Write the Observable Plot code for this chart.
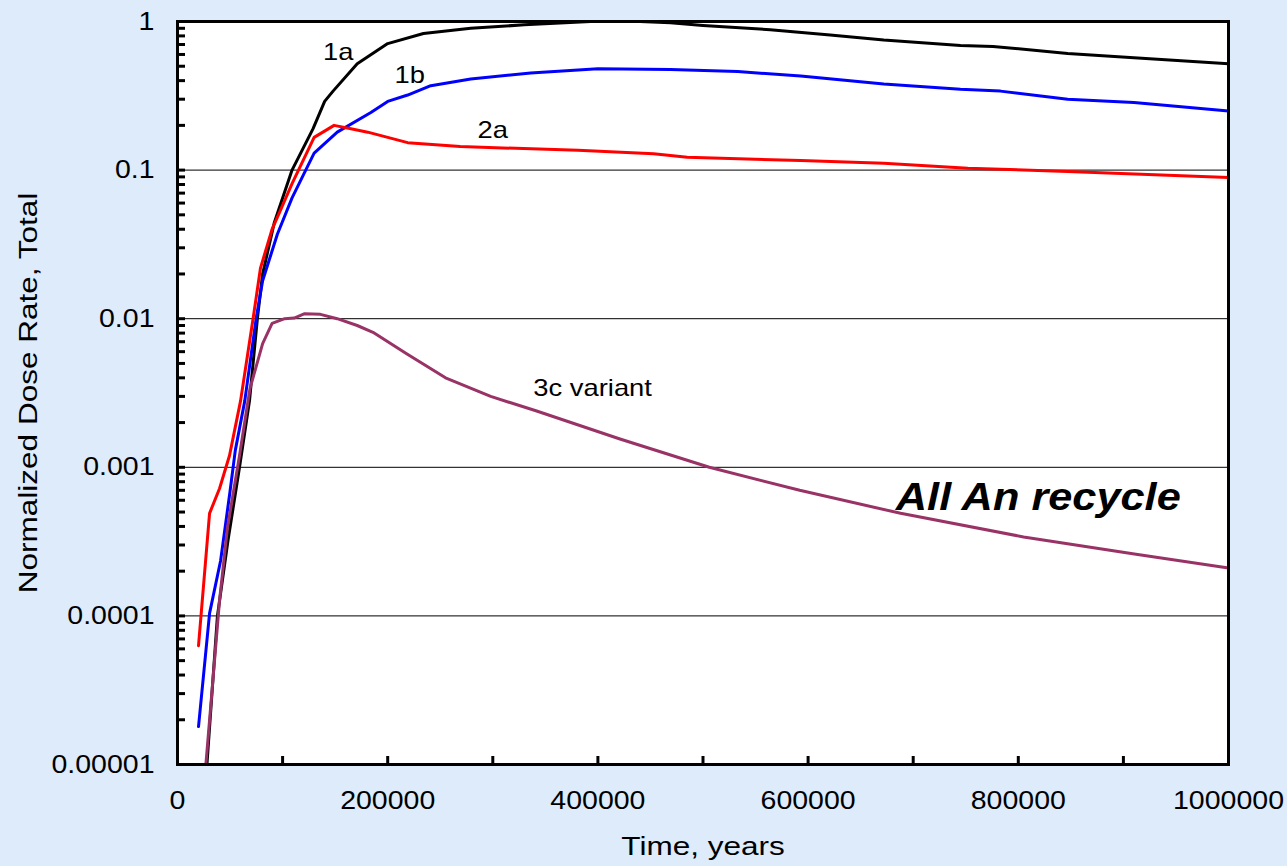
<!DOCTYPE html>
<html><head><meta charset="utf-8">
<script src="https://cdn.jsdelivr.net/npm/d3@7"></script>
<script src="https://cdn.jsdelivr.net/npm/@observablehq/plot@0.6"></script>
<style>
html,body{margin:0;padding:0;background:#ddebfb;}
#chart{width:1287px;height:866px;}
svg{font-family:"Liberation Sans",Arial,sans-serif;}
</style></head><body><div id="chart"></div>
<script>
const seriesNames = ["1a", "1b", "2a", "3c variant"];
const seriesColors = ["#000000", "#0000ff", "#ff0000", "#993366"];

const t1a = [28000, 38000, 48000, 59000, 68500, 76000, 81000, 92000, 109000, 129000, 140000, 148000, 171000, 200000, 234000, 279000, 330000, 393000, 440000, 469000, 500000, 564000, 621000, 672000, 745000, 776000, 847000, 910000, 1000000];
const v1a = [1.0e-5, 1.0e-4, 3.2e-4, 0.001, 0.0028, 0.01, 0.02, 0.044, 0.1, 0.19, 0.29, 0.34, 0.52, 0.71, 0.83, 0.9, 0.95, 1.0, 1.0, 0.98, 0.94, 0.88, 0.81, 0.75, 0.69, 0.68, 0.61, 0.57, 0.52];

const t1b = [20000, 30500, 41000, 50000, 55000, 64000, 75000, 81000, 95000, 109000, 122000, 130000, 152000, 184000, 200000, 219000, 241000, 279000, 336000, 400000, 469000, 533000, 593000, 672000, 745000, 783000, 847000, 910000, 1000000];
const v1b = [1.8e-5, 1.04e-4, 2.35e-4, 6.9e-4, 0.0013, 0.0028, 0.0102, 0.018, 0.037, 0.065, 0.1, 0.13, 0.18, 0.244, 0.29, 0.32, 0.37, 0.41, 0.45, 0.48, 0.475, 0.46, 0.43, 0.38, 0.35, 0.34, 0.30, 0.285, 0.25];

const t2a = [20000, 30500, 40000, 49500, 60000, 72000, 79000, 90000, 95000, 109000, 130000, 149000, 165000, 181000, 219000, 269000, 381000, 453000, 485000, 593000, 672000, 752000, 847000, 1000000];
const v2a = [6.3e-5, 4.9e-4, 7.2e-4, 0.0012, 0.0028, 0.0101, 0.022, 0.04, 0.048, 0.081, 0.166, 0.2, 0.19, 0.18, 0.153, 0.144, 0.136, 0.129, 0.122, 0.116, 0.111, 0.103, 0.098, 0.089];

const t3c = [27000, 40000, 47500, 59000, 69000, 81000, 90000, 102000, 111000, 121000, 136000, 152000, 171000, 186000, 218000, 255000, 298000, 341000, 421000, 506000, 592000, 688000, 805000, 912000, 1000000];
const v3c = [1.0e-5, 1.27e-4, 3.9e-4, 0.0012, 0.0034, 0.0068, 0.0093, 0.0100, 0.0101, 0.0108, 0.0107, 0.0100, 0.0090, 0.0081, 0.0058, 0.0040, 0.0030, 0.0024, 0.00155, 0.001, 0.0007, 0.00049, 0.00034, 0.00026, 0.00021];

const decades = [1e-5, 1e-4, 1e-3, 1e-2, 1e-1, 1];
const decadeLabels = ["0.00001", "0.0001", "0.001", "0.01", "0.1", "1"];
const xTicks = [0, 100000, 200000, 300000, 400000, 500000, 600000, 700000, 800000, 900000, 1000000];
const xLabelTicks = [0, 200000, 400000, 600000, 800000, 1000000];

const labelText = ["1a", "1b", "2a", "3c variant"];
const labelT = [153000, 221000, 300000, 395000];
const labelV = [0.618, 0.433, 0.185, 0.00339];
const noteText = "All An recycle";
const noteT = 819000;
const noteV = 6.26e-4;
const xTitle = "Time, years";
const yTitle = "Normalized Dose Rate, Total";

const tSeries = [t1a, t1b, t2a, t3c];
const vSeries = [v1a, v1b, v2a, v3c];
const rows = seriesNames.flatMap((s, k) => tSeries[k].map((t, i) => ({series: s, t, v: vSeries[k][i]})));
const minorTicks = decades.slice(0, -1).flatMap(d => [1,2,3,4,5,6,7,8,9].map(m => m * d)).concat([1]);
const labels = labelText.map((text, i) => ({text, t: labelT[i], v: labelV[i]}));

const chart = Plot.plot({
  width: 1287,
  height: 866,
  marginLeft: 177,
  marginRight: 59,
  marginTop: 21,
  marginBottom: 102,
  style: {background: "transparent", fontFamily: "'Liberation Sans', Arial, sans-serif", fontSize: "25px", color: "black"},
  x: {domain: [0, 1000000], axis: null},
  y: {type: "log", domain: [1e-5, 1], axis: null},
  color: {domain: seriesNames, range: seriesColors},
  marks: [
    Plot.frame({fill: "white", stroke: null}),
    Plot.ruleY(decades.slice(1, -1), {stroke: "black", strokeWidth: 1}),
    Plot.line(rows, {x: "t", y: "v", z: "series", stroke: "series", strokeWidth: 3, strokeLinejoin: "round"}),
    Plot.frame({stroke: "black", strokeWidth: 3}),
    Plot.axisY(minorTicks, {anchor: "left", tickSize: -8, strokeWidth: 3, tickFormat: () => "", label: null}),
    Plot.axisY(decades, {anchor: "left", tickSize: 0, tickPadding: 23, fontSize: 25, tickFormat: d => decadeLabels[decades.indexOf(d)], label: null}),
    Plot.axisX(xTicks, {anchor: "bottom", tickSize: -8, strokeWidth: 3, tickFormat: () => "", label: null}),
    Plot.axisX(xLabelTicks, {anchor: "bottom", tickSize: 0, tickPadding: 27, fontSize: 25, tickFormat: d => String(d), label: null}),
    Plot.text([yTitle], {frameAnchor: "left", textAnchor: "middle", rotate: -90, dx: -149, fontSize: 25, fill: "black"}),
    Plot.text([xTitle], {frameAnchor: "bottom", textAnchor: "middle", dy: 90, fontSize: 25, fill: "black"}),
    Plot.text(labels, {x: "t", y: "v", text: "text", fontSize: 24, fill: "black"}),
    Plot.text([noteText], {x: () => noteT, y: () => noteV, fontSize: 38, fontWeight: "bold", fontStyle: "italic", fill: "black"})
  ]
});
document.getElementById("chart").appendChild(chart);

// the original's lettering is slightly wider than Liberation Sans: stretch glyphs horizontally
chart.querySelectorAll("text").forEach(el => {
  const s = el.textContent;
  if (!s) return;
  const len = el.getComputedTextLength();
  if (!len) return;
  const f = (s === xTitle || s === yTitle) ? 1.26 : 1.14;
  el.setAttribute("textLength", (len * f).toFixed(1));
  el.setAttribute("lengthAdjust", "spacingAndGlyphs");
});
</script>
</body></html>
